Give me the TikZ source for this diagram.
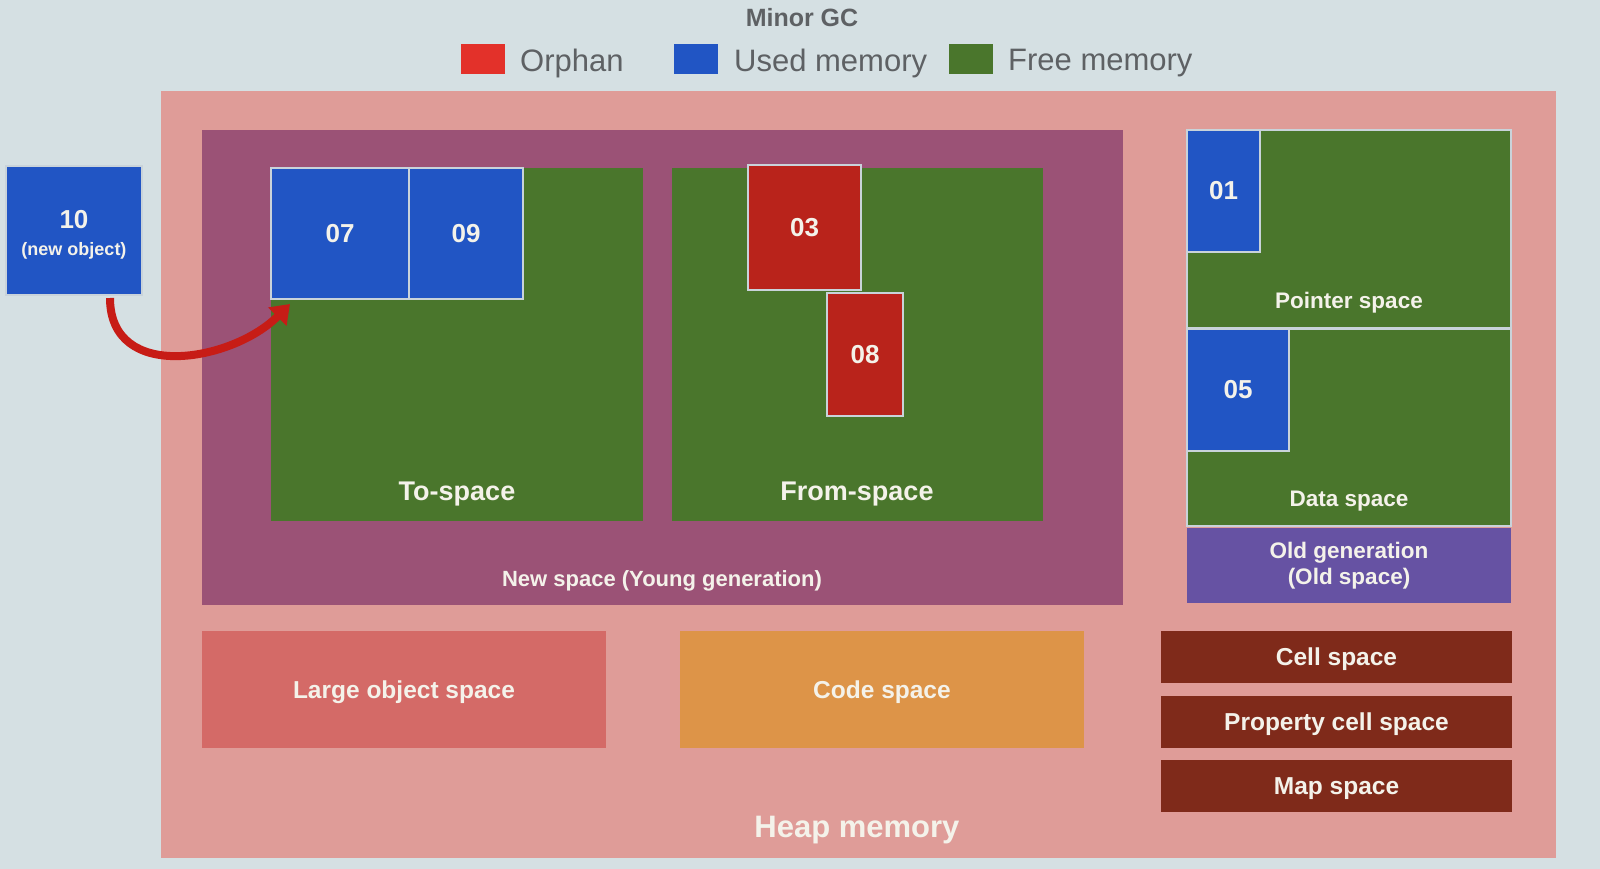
\documentclass[tikz,border=0pt]{standalone}
\usepackage{fontspec}
\setmainfont{Liberation Sans}
\usetikzlibrary{arrows.meta,positioning}

\definecolor{bgcolor}{HTML}{D5E0E3}
\definecolor{heapcolor}{HTML}{DF9C98}
\definecolor{newcolor}{HTML}{9B5276}
\definecolor{freecolor}{HTML}{4A762C}
\definecolor{usedcolor}{HTML}{2155C4}
\definecolor{orphancolor}{HTML}{B9231B}
\definecolor{legendred}{HTML}{E3312A}
\definecolor{oldcolor}{HTML}{6652A3}
\definecolor{largecolor}{HTML}{D46A67}
\definecolor{codecolor}{HTML}{DD9448}
\definecolor{cellcolor}{HTML}{7F2A1A}
\definecolor{edgecolor}{HTML}{C9D3DA}
\definecolor{labelcolor}{HTML}{F4F2EA}
\definecolor{legendtext}{HTML}{5E6164}

\newcommand{\fs}[1]{\fontsize{#1}{#1}\selectfont}

\begin{document}
\begin{tikzpicture}[x=1pt,y=-1pt,
  area/.style={rectangle,inner sep=0pt,outer sep=0pt},
  freebox/.style={area,fill=freecolor},
  edged/.style={draw=edgecolor,line width=1.2pt},
  objbox/.style={area,edged,text=labelcolor,font=\bfseries\fs{26}},
  usedbox/.style={objbox,fill=usedcolor},
  orphanbox/.style={objbox,fill=orphancolor},
  spacebox/.style={area,text depth=0pt,text=labelcolor,font=\bfseries\fs{24.5}},
  lbl/.style={inner sep=0pt,text=labelcolor,font=\bfseries\fs{#1}},
  lbl/.default=22.5,
  keybox/.style={area,minimum width=44,minimum height=30},
  keytext/.style={anchor=west,inner sep=0pt,text=legendtext,font=\fs{31}},
  movearrow/.style={draw=orphancolor!80!red,line width=8pt,-{Triangle[length=18pt,width=25pt]}}
]
% background and page size
\fill[bgcolor] (0,0) rectangle (1600,869);
\useasboundingbox (0,0) rectangle (1600,869);

% legend
\node[inner sep=0pt,text=legendtext,font=\bfseries\fs{25}] (title) at (802,18) {Minor GC};
\node[keybox,fill=legendred] (keyorphan) at (483,59) {};
\node[keytext] (txtorphan) at (520,63) {Orphan};
\node[keybox,fill=usedcolor] (keyused) at (696,59) {};
\node[keytext] (txtused) at (734,63) {Used memory};
\node[keybox,fill=freecolor] (keyfree) at (971,59) {};
\node[keytext] (txtfree) at (1008,63) {Free memory};

% heap
\node[area,fill=heapcolor,minimum width=1395,minimum height=767] (heap) at (858.5,474.5) {};
\node[lbl=31] (heaplbl) at (857,830) {Heap memory};

% new space
\node[area,fill=newcolor,minimum width=921,minimum height=475] (newspace) at (662.5,367.5) {};
\node[lbl=22] (newlbl) at (662,581) {New space (Young generation)};

\node[freebox,minimum width=372,minimum height=353] (tospace) at (457,344.5) {};
\node[lbl=27] (tolbl) at (457,494) {To-space};
\node[usedbox,minimum width=138,minimum height=131] (n07) at (340,233.5) {07};
\node[usedbox,minimum width=114,minimum height=131] (n09) at (466,233.5) {09};

\node[freebox,minimum width=371,minimum height=353] (fromspace) at (857.5,344.5) {};
\node[lbl=27] (fromlbl) at (857,494) {From-space};
\node[orphanbox,minimum width=113,minimum height=125] (n03) at (804.5,227.5) {03};
\node[orphanbox,minimum width=76,minimum height=123] (n08) at (865,354.5) {08};

% new object
\node[usedbox,minimum width=136,minimum height=129] (n10) at (74,230.5) {};
\node[lbl=26,align=center] (n10lbl) at ([yshift=-4pt]n10.center)
  {10\\[1pt]{\fs{18}(new object)}};

% old generation
\node[freebox,edged,minimum width=324,minimum height=198] (pointer) at (1349,229) {};
\node[lbl=22.5] (pointerlbl) at (1349,303) {Pointer space};
\node[usedbox,minimum width=73,minimum height=122] (n01) at (1223.5,191) {01};

\node[freebox,edged,minimum width=324,minimum height=197] (data) at (1349,427.5) {};
\node[lbl=22.5] (datalbl) at (1349,501) {Data space};
\node[usedbox,minimum width=102,minimum height=122] (n05) at (1238,390) {05};

\node[area,fill=oldcolor,minimum width=324,minimum height=75,align=center,
  text=labelcolor,font=\bfseries\fs{22.5}] (oldgen) at (1349,565.5)
  {Old generation\\[4pt](Old space)};

% other spaces
\node[spacebox,fill=largecolor,minimum width=404,minimum height=117] (large) at (404,689.5) {Large object space};
\node[spacebox,fill=codecolor,minimum width=404,minimum height=117] (code) at (882,689.5) {Code space};
\node[spacebox,fill=cellcolor,minimum width=351,minimum height=52] (cell) at (1336.5,657) {Cell space};
\node[spacebox,fill=cellcolor,minimum width=351,minimum height=52] (propcell) at (1336.5,722) {Property cell space};
\node[spacebox,fill=cellcolor,minimum width=351,minimum height=52] (map) at (1336.5,786) {Map space};

% move of the new object
\draw[movearrow] ([xshift=36pt,yshift=-3pt]n10.south)
  .. controls +(0,85) and +(-58,58) .. ([xshift=19pt,yshift=-5pt]n07.south west);
\end{tikzpicture}
\end{document}
